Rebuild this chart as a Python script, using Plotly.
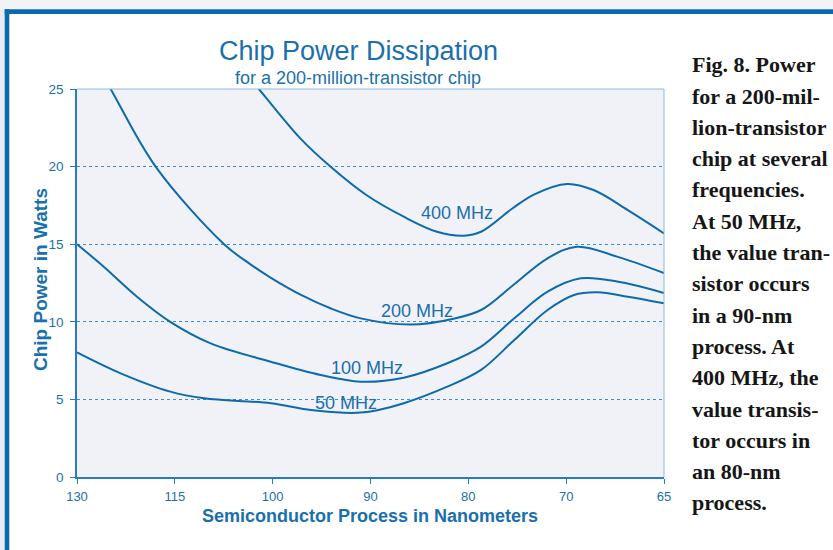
import numpy as np
import plotly.graph_objects as go

# ---- data ----
tick_nm = [130, 115, 100, 90, 80, 70, 65]
tick_labels = ["130", "115", "100", "90", "80", "70", "65"]

nm_400 = [104.2, 102.1, 97.15, 94.1, 90.5, 86.6, 83.2, 80.45, 78.7, 75.5, 73.3, 69.95, 68.6, 66.85, 65.0]
w_400 = [26.1, 25.0, 21.8, 20.0, 18.2, 16.77, 15.8, 15.55, 15.8, 17.3, 18.2, 18.88, 18.49, 17.2, 15.7]

nm_200 = [127.0, 124.85, 117.95, 107.45, 103.4, 100.33, 97.0, 94.1, 91.0, 85.9, 81.5, 78.7, 75.4, 71.9, 69.45, 67.4, 65.0]
w_200 = [26.5, 25.0, 20.0, 15.0, 13.7, 12.85, 11.7, 10.87, 10.22, 9.82, 10.2, 10.76, 12.37, 14.09, 14.84, 14.2, 13.14]

nm_100 = [130.0, 125.9, 120.8, 115.7, 109.5, 100.3, 95.1, 91.0, 86.6, 82.15, 78.7, 75.3, 71.9, 69.25, 67.4, 65.0]
w_100 = [15.0, 13.55, 11.62, 10.0, 8.61, 7.43, 6.57, 6.14, 6.4, 7.33, 8.4, 10.23, 11.94, 12.8, 12.6, 11.86]

nm_50 = [130.0, 123.3, 115.7, 110.5, 100.3, 96.1, 92.7, 91.0, 89.3, 86.6, 82.15, 78.7, 75.3, 71.9, 69.6, 68.4, 66.85, 65.0]
w_50 = [8.03, 6.68, 5.5, 5.07, 4.75, 4.32, 4.14, 4.15, 4.3, 4.75, 5.82, 6.9, 8.83, 10.76, 11.73, 11.9, 11.62, 11.19]

series_names = ["400 MHz", "200 MHz", "100 MHz", "50 MHz"]
series_nm = [nm_400, nm_200, nm_100, nm_50]
series_w = [w_400, w_200, w_100, w_50]

y_ticks = [0, 5, 10, 15, 20, 25]

caption_lines = [
    "Fig. 8. Power", "for a 200-mil-", "lion-transistor", "chip at several",
    "frequencies.", "At 50 MHz,", "the value tran-", "sistor occurs",
    "in a 90-nm", "process. At", "400 MHz, the", "value transis-",
    "tor occurs in", "an 80-nm", "process.",
]

# ---- layout / style (positions kept apart from data) ----
label_pos = {"400 MHz": (81.2, 17.0), "200 MHz": (85.2, 10.7),
             "100 MHz": (90.4, 7.0), "50 MHz": (92.55, 4.75)}

W, H = 833, 550
L, R, T, B = 77, 169, 89, 73
PW, PH = W - L - R, H - T - B
BLUE = "#0e6aab"
TXT = "#1a6fad"
SANS = "Liberation Sans, Arial, sans-serif"
SERIF = "Liberation Serif, Times New Roman, serif"

tick_idx = np.arange(len(tick_nm))
xp = -np.array(tick_nm, dtype=float)


def nm_to_pos(nm):
    return np.interp(-np.asarray(nm, dtype=float), xp, tick_idx)


def px_x(px):
    return (px - L) / PW


def px_y(py):
    return (H - B - py) / PH


fig = go.Figure()
for name, nm, w in zip(series_names, series_nm, series_w):
    fig.add_trace(go.Scatter(
        x=nm_to_pos(nm), y=w, mode="lines", name=name,
        line=dict(color=BLUE, width=2, shape="spline", smoothing=1.0),
        hoverinfo="skip", showlegend=False,
    ))

annotations = []
for name in series_names:
    nx, ny = label_pos[name]
    annotations.append(dict(
        x=float(nm_to_pos([nx])[0]), y=ny, xref="x", yref="y", text=name,
        showarrow=False, font=dict(family=SANS, size=18, color=TXT),
        xanchor="center", yanchor="middle"))

annotations += [
    dict(x=px_x(358), y=px_y(51), xref="paper", yref="paper",
         text="Chip Power Dissipation", showarrow=False,
         font=dict(family=SANS, size=27, color=TXT), xanchor="center", yanchor="middle"),
    dict(x=px_x(358), y=px_y(78), xref="paper", yref="paper",
         text="for a 200-million-transistor chip", showarrow=False,
         font=dict(family=SANS, size=18, color=TXT), xanchor="center", yanchor="middle"),
    dict(x=px_x(370), y=px_y(515.5), xref="paper", yref="paper",
         text="<b>Semiconductor Process in Nanometers</b>", showarrow=False,
         font=dict(family=SANS, size=18, color=TXT), xanchor="center", yanchor="middle"),
    dict(x=px_x(40), y=px_y(280), xref="paper", yref="paper",
         text="<b>Chip Power in Watts</b>", showarrow=False, textangle=-90,
         font=dict(family=SANS, size=19, color=TXT), xanchor="center", yanchor="middle"),
]

for i, line in enumerate(caption_lines):
    baseline = 71.7 + i * 31.3
    annotations.append(dict(
        x=px_x(690), y=px_y(baseline - 7), xref="paper", yref="paper",
        text="<b>" + line + "</b>", showarrow=False,
        font=dict(family=SERIF, size=22, color="#161616"),
        xanchor="left", yanchor="middle"))

shapes = [
    dict(type="rect", xref="paper", yref="paper", x0=px_x(0), x1=px_x(W), y0=px_y(0), y1=px_y(9.3),
         fillcolor="#f3f3f7", line=dict(width=0), layer="below"),
    dict(type="rect", xref="paper", yref="paper", x0=px_x(0), x1=px_x(4.7), y0=px_y(9.3), y1=px_y(H),
         fillcolor="#e6eaf4", line=dict(width=0), layer="below"),
    dict(type="rect", xref="paper", yref="paper", x0=px_x(4.7), x1=px_x(W), y0=px_y(9.3), y1=px_y(14),
         fillcolor="#0a69ad", line=dict(width=0)),
    dict(type="rect", xref="paper", yref="paper", x0=px_x(4.7), x1=px_x(9.3), y0=px_y(9.3), y1=px_y(H),
         fillcolor="#0a69ad", line=dict(width=0)),
    dict(type="line", xref="paper", yref="paper", x0=0, x1=1, y0=1, y1=1,
         line=dict(color="#8fb8de", width=1)),
    dict(type="line", xref="paper", yref="paper", x0=1, x1=1, y0=0, y1=1,
         line=dict(color="#8fb8de", width=1)),
]

fig.update_layout(
    width=W, height=H,
    margin=dict(l=L, r=R, t=T, b=B, pad=0),
    paper_bgcolor="white", plot_bgcolor="#f0f2f8",
    annotations=annotations, shapes=shapes,
    font=dict(family=SANS, color=TXT),
)
fig.update_xaxes(
    range=[0, 6], tickvals=list(tick_idx), ticktext=tick_labels,
    showgrid=False, zeroline=False, showline=True, linecolor="#2a7bbd", linewidth=1.5,
    ticks="outside", ticklen=5, tickcolor="#2a7bbd", tickwidth=1.2, ticklabelstandoff=2,
    tickfont=dict(family=SANS, size=13, color=TXT), fixedrange=True,
)
fig.update_yaxes(
    range=[0, 25], tickvals=y_ticks,
    showgrid=True, gridcolor="#3d8dcc", gridwidth=1, griddash="dot",
    zeroline=False, showline=True, linecolor="#2a7bbd", linewidth=1.5,
    ticks="outside", ticklen=5, tickcolor="#2a7bbd", tickwidth=1.2, ticklabelstandoff=4,
    tickfont=dict(family=SANS, size=13.5, color=TXT), fixedrange=True,
)

fig.write_html("out.html", config={"displayModeBar": False},
               post_script="document.body.style.margin='0px';document.body.style.overflow='hidden';")
